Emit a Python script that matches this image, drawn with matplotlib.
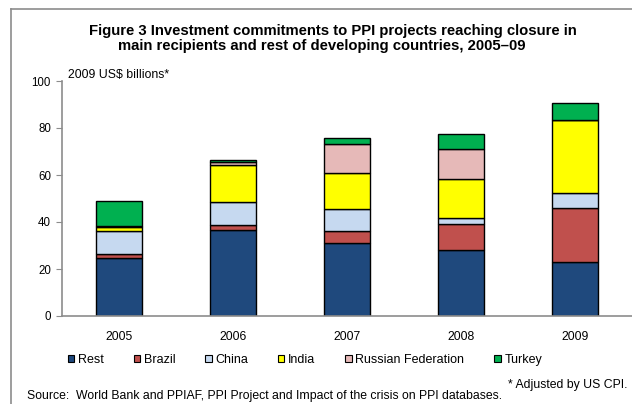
import matplotlib
matplotlib.use("Agg")
import matplotlib.pyplot as plt
from matplotlib.lines import Line2D
from matplotlib.patches import Patch
import numpy as np

years = ["2005", "2006", "2007", "2008", "2009"]
series_names = ["Rest", "Brazil", "China", "India", "Russian Federation", "Turkey"]
rest = [24.5, 36.5, 31.1, 28.0, 23.1]
brazil = [2.0, 2.4, 5.2, 11.0, 22.7]
china = [9.5, 9.5, 9.1, 2.6, 6.5]
india = [1.9, 15.9, 15.3, 16.8, 31.0]
russia = [0.5, 1.3, 12.4, 12.8, 0.3]
turkey = [10.5, 0.8, 2.6, 6.1, 7.0]
colors = ["#1F497D", "#C0504D", "#C6D9F0", "#FFFF00", "#E6B9B8", "#00B050"]

plt.rcParams['font.family'] = ['Liberation Sans', 'DejaVu Sans']

W, H = 632, 404
fig = plt.figure(figsize=(W / 100, H / 100), dpi=100)
ax = fig.add_axes([62 / W, 1 - 316 / H, 1 - 62 / W, (316 - 81) / H])

data = [rest, brazil, china, india, russia, turkey]
x = np.arange(len(years))
bottom = np.zeros(len(years))
for vals, c in zip(data, colors):
    ax.bar(x, vals, bottom=bottom, width=0.395, color=c, edgecolor="black", linewidth=1.0)
    bottom += np.array(vals)

ax.set_xlim(-0.5, 4.5)
ax.set_ylim(0, 100)
ax.set_yticks([0, 20, 40, 60, 80, 100])
ax.set_xticks(x)
ax.set_xticklabels(years)
for s in ["top", "right"]:
    ax.spines[s].set_visible(False)
for s in ["left", "bottom"]:
    ax.spines[s].set_color("#8C8C8C")
    ax.spines[s].set_linewidth(1.2)
ax.tick_params(axis="y", direction="out", length=4, color="#8C8C8C", labelsize=8.3, pad=4)
ax.tick_params(axis="x", length=0, labelsize=8.7, pad=11)

fig.text(68 / W, 1 - 75 / H, "2009 US$ billions*", fontsize=8.8, va="center", ha="left")

fig.text(333 / W, 1 - 31 / H, "Figure 3 Investment commitments to PPI projects reaching closure in",
         fontsize=10.7, fontweight="bold", ha="center", va="center")
fig.text(322 / W, 1 - 46 / H, "main recipients and rest of developing countries, 2005\u201309",
         fontsize=10.7, fontweight="bold", ha="center", va="center")

handles = [Patch(facecolor=c, edgecolor="black", linewidth=0.8) for c in colors]
fig.legend(handles, series_names, loc="center", bbox_to_anchor=(305 / W, 1 - 360 / H),
           ncol=6, frameon=False, fontsize=9, handlelength=0.5, handleheight=0.5,
           handletextpad=0.3, columnspacing=2.4, borderpad=0)

fig.text(628 / W, 1 - 385 / H, "* Adjusted by US CPI.", fontsize=8.8, ha="right", va="center")
fig.text(27 / W, 1 - 396 / H, "Source:  World Bank and PPIAF, PPI Project and Impact of the crisis on PPI databases.",
         fontsize=8.8, ha="left", va="center")

fig.add_artist(Line2D([11 / W, 1], [1 - 9 / H, 1 - 9 / H], transform=fig.transFigure, color="#8C8C8C", lw=1.2))
fig.add_artist(Line2D([11 / W, 11 / W], [0, 1 - 9 / H], transform=fig.transFigure, color="#8C8C8C", lw=1.2))

fig.savefig("out.png", dpi=100)
